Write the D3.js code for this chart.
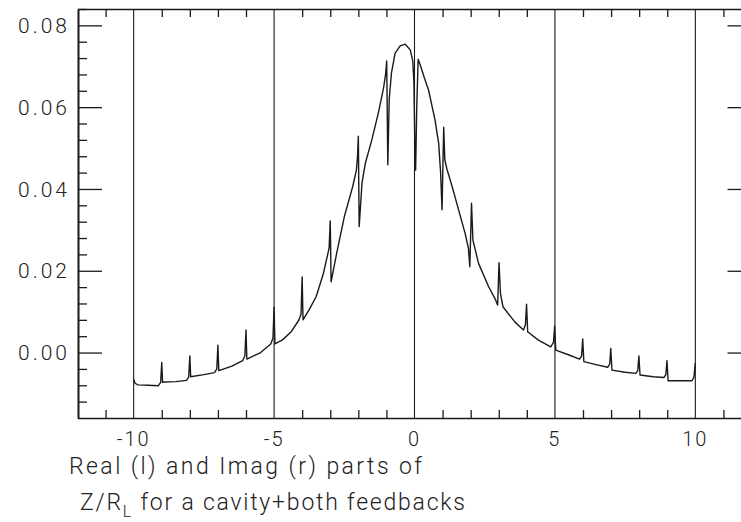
<!DOCTYPE html>
<html>
<head>
<meta charset="utf-8">
<script src="https://cdn.jsdelivr.net/npm/d3@7"></script>
<style>
  html, body { margin: 0; padding: 0; background: #ffffff; }
  svg { display: block; }
  text { font-family: "Roboto", "DejaVu Sans", sans-serif; font-weight: 300; fill: #222; }
</style>
</head>
<body>
<svg id="chart" width="741" height="522"></svg>
<script>
// ---- data ----
const curveX = [
  -10.00, -9.95, -9.85, -9.50, -9.12, -9.04, -9.00, -8.97, -8.90, -8.50, -8.12, -8.04, -8.00, -7.97,
  -7.50, -7.12, -7.04, -7.00, -6.97, -6.50, -6.12, -6.04, -6.00, -5.97, -5.50, -5.12, -5.04, -5.00,
  -4.97, -4.70, -4.40, -4.12, -4.04, -4.00, -3.97, -3.75, -3.50, -3.25, -3.11, -3.04, -3.00, -2.97,
  -2.85, -2.77, -2.50, -2.20, -2.07, -2.03, -2.00, -1.97, -1.87, -1.75, -1.52, -1.28, -1.10, -1.03,
  -0.99, -0.95, -0.90, -0.82, -0.69, -0.51, -0.33, -0.15, -0.06, -0.02, 0.01, 0.04, 0.08, 0.13,
  0.22, 0.35, 0.50, 0.73, 0.86, 0.93, 0.98, 1.04, 1.08, 1.15, 1.34, 1.57, 1.80, 1.92, 1.97, 2.03,
  2.08, 2.28, 2.64, 2.88, 2.96, 3.01, 3.06, 3.15, 3.57, 3.88, 3.95, 3.99, 4.03, 4.40, 4.85, 4.95,
  4.99, 5.03, 5.50, 5.88, 5.95, 5.99, 6.03, 6.50, 6.88, 6.95, 6.99, 7.03, 7.50, 7.88, 7.95, 7.99,
  8.03, 8.50, 8.88, 8.95, 8.99, 9.03, 9.50, 9.88, 9.95, 10.00
];
const curveY = [
  -0.0065, -0.0075, -0.0079, -0.0080, -0.0081, -0.0073, -0.0024, -0.0073, -0.0072, -0.0071, -0.0068, -0.0060, -0.0008, -0.0059,
  -0.0054, -0.0049, -0.0040, 0.0018, -0.0044, -0.0033, -0.0020, -0.0008, 0.0055, -0.0016, -0.0001, 0.0021, 0.0035, 0.0111,
  0.0021, 0.0031, 0.0050, 0.0079, 0.0094, 0.0185, 0.0080, 0.0105, 0.0137, 0.0192, 0.0234, 0.0256, 0.0322, 0.0173,
  0.0215, 0.0243, 0.0332, 0.0406, 0.0446, 0.0478, 0.0529, 0.0308, 0.0414, 0.0463, 0.0520, 0.0588, 0.0648, 0.0680,
  0.0713, 0.0459, 0.0620, 0.0684, 0.0732, 0.0750, 0.0754, 0.0740, 0.0712, 0.0660, 0.0520, 0.0446, 0.0600, 0.0717,
  0.0700, 0.0672, 0.0642, 0.0569, 0.0512, 0.0440, 0.0349, 0.0551, 0.0471, 0.0450, 0.0406, 0.0349, 0.0292, 0.0255, 0.0210, 0.0365,
  0.0275, 0.0218, 0.0161, 0.0130, 0.0116, 0.0220, 0.0145, 0.0112, 0.0075, 0.0055, 0.0068, 0.0118, 0.0051, 0.0031, 0.0014, 0.0025,
  0.0065, 0.0006, -0.0006, -0.0016, -0.0008, 0.0033, -0.0022, -0.0030, -0.0036, -0.0028, 0.0010, -0.0043, -0.0048, -0.0051, -0.0044, -0.0008,
  -0.0055, -0.0059, -0.0061, -0.0054, -0.0020, -0.0069, -0.0069, -0.0069, -0.0060, -0.0026
];
const xMajorTicks = [-10, -5, 0, 5, 10];
const xTickLabels = ["-10", "-5", "0", "5", "10"];
const xMinorTicks = [-11, -9, -8, -7, -6, -4, -3, -2, -1, 1, 2, 3, 4, 6, 7, 8, 9, 11];
const yMajorTicks = [0.00, 0.02, 0.04, 0.06, 0.08];
const yTickLabels = ["0.00", "0.02", "0.04", "0.06", "0.08"];
const yMinorTicks = [-0.012, -0.008, -0.004, 0.004, 0.008, 0.012, 0.016, 0.024, 0.028, 0.032, 0.036,
                     0.044, 0.048, 0.052, 0.056, 0.064, 0.068, 0.072, 0.076, 0.084];
const titleLine1 = "Real (l) and Imag (r) parts of";
const titleLine2a = "Z/R";
const titleLine2sub = "L";
const titleLine2b = " for a cavity+both feedbacks";

// ---- layout ----
const svg = d3.select("#chart");
const plotLeft = 78, plotRight = 751.5, plotTop = 9, plotBottom = 418;
const x = d3.scaleLinear().domain([-12, 12]).range([77.5, 751.5]);
const y = d3.scaleLinear().domain([-0.016, 0.084]).range([plotBottom, plotTop]);

svg.append("rect").attr("width", 741).attr("height", 522).attr("fill", "#ffffff");

const ink = "#1a1a1a";

// vertical grid lines at major x ticks
svg.append("g").selectAll("line").data(xMajorTicks).join("line")
  .attr("x1", d => x(d)).attr("x2", d => x(d))
  .attr("y1", plotTop).attr("y2", plotBottom)
  .attr("stroke", ink).attr("stroke-width", 1.1);

function styleAxis(g) {
  g.selectAll("path").attr("stroke", ink).attr("stroke-width", 1.6);
  g.selectAll("line").attr("stroke", ink).attr("stroke-width", 1.3);
  g.selectAll("text").remove();
}

// bottom axis: minor ticks pointing up
svg.append("g").attr("transform", `translate(0,${plotBottom})`)
  .call(d3.axisBottom(x).tickValues(xMinorTicks).tickSizeInner(-8).tickSizeOuter(0).tickFormat(""))
  .call(styleAxis);
// top axis: minor ticks pointing down
svg.append("g").attr("transform", `translate(0,${plotTop})`)
  .call(d3.axisTop(x).tickValues(xMinorTicks).tickSizeInner(-8).tickSizeOuter(0).tickFormat(""))
  .call(styleAxis);
// left axis: major + minor ticks pointing right
svg.append("g").attr("transform", `translate(${plotLeft},0)`)
  .call(d3.axisLeft(y).tickValues(yMajorTicks).tickSizeInner(-24).tickSizeOuter(0).tickFormat(""))
  .call(styleAxis);
svg.append("g").attr("transform", `translate(${plotLeft},0)`)
  .call(d3.axisLeft(y).tickValues(yMinorTicks).tickSizeInner(-9).tickSizeOuter(0).tickFormat(""))
  .call(styleAxis);
// right axis: major ticks pointing left
svg.append("g").attr("transform", `translate(${plotRight},0)`)
  .call(d3.axisRight(y).tickValues(yMajorTicks).tickSizeInner(-24).tickSizeOuter(0).tickFormat(""))
  .call(styleAxis);

// tick labels
svg.append("g").selectAll("text").data(yMajorTicks).join("text")
  .attr("x", 70).attr("y", d => y(d)).attr("dy", "0.36em")
  .attr("text-anchor", "end").attr("font-size", 21)
  .style("letter-spacing", "3px")
  .text((d, i) => yTickLabels[i]);

svg.append("g").selectAll("text").data(xMajorTicks).join("text")
  .attr("x", d => x(d)).attr("y", 446)
  .attr("text-anchor", "middle").attr("font-size", 20)
  .style("letter-spacing", "2px")
  .text((d, i) => xTickLabels[i]);

// caption
svg.append("text").attr("x", 69).attr("y", 474).attr("font-size", 23)
  .attr("textLength", 353).attr("lengthAdjust", "spacing")
  .text(titleLine1);

const t2 = svg.append("text").attr("x", 80).attr("y", 510).attr("font-size", 23);
t2.append("tspan").text(titleLine2a);
t2.append("tspan").attr("font-size", 16).attr("dy", 7).text(titleLine2sub);
t2.append("tspan").attr("dy", -7).text(titleLine2b);
t2.attr("textLength", 385).attr("lengthAdjust", "spacing");

// curve
const pts = curveX.map((v, i) => [v, curveY[i]]);
svg.append("path").datum(pts)
  .attr("fill", "none").attr("stroke", ink).attr("stroke-width", 1.4)
  .attr("stroke-linejoin", "round")
  .attr("d", d3.line().x(d => x(d[0])).y(d => y(d[1])));
</script>
</body>
</html>
